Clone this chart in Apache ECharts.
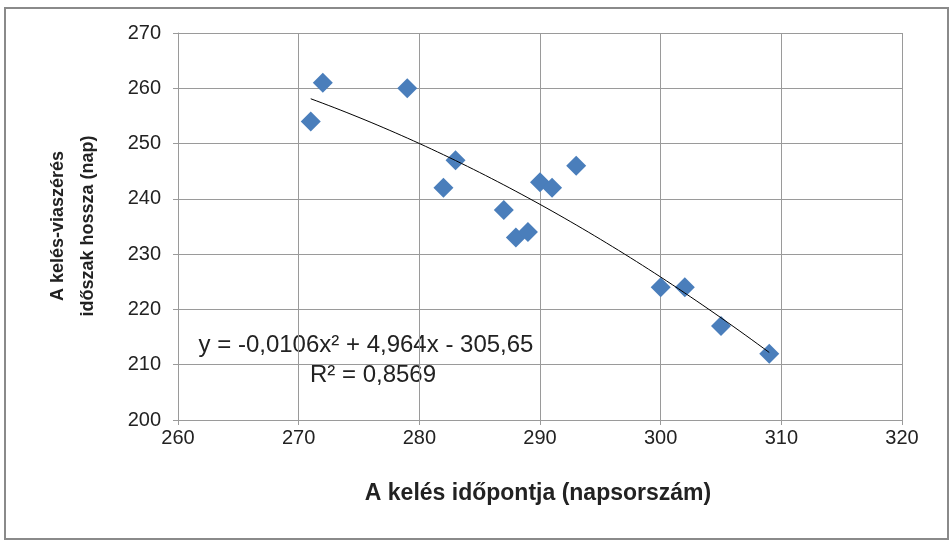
<!DOCTYPE html>
<html><head><meta charset="utf-8">
<script src="https://cdn.jsdelivr.net/npm/echarts@6/dist/echarts.min.js"></script>
<style>html,body{margin:0;padding:0;background:#fff}#c{width:952px;height:542px}</style>
</head><body><div id="c"></div>
<script>
// Data
var keles = [271, 272, 279, 282, 283, 287, 288, 289, 290, 291, 293, 300, 302, 305, 309];
var hossz = [254, 261, 260, 242, 247, 238, 233, 234, 243, 242, 246, 224, 224, 217, 212];
var equationText = 'y = -0,0106x² + 4,964x - 305,65';
var r2Text = 'R² = 0,8569';
var xTitle = 'A kelés időpontja (napsorszám)';
var yTitle = 'A kelés-viaszérés\nidőszak hossza (nap)';

// Quadratic least-squares trendline computed from the points
function quadFit(xs, ys) {
  var n = xs.length, m = 0;
  xs.forEach(function (v) { m += v; }); m /= n;
  var S = [0,0,0,0,0], T = [0,0,0];
  for (var i = 0; i < n; i++) {
    var u = xs[i] - m, p = 1;
    for (var k = 0; k < 5; k++) { S[k] += p; p *= u; }
    T[0] += ys[i]; T[1] += ys[i] * u; T[2] += ys[i] * u * u;
  }
  var A = [[S[0],S[1],S[2],T[0]],[S[1],S[2],S[3],T[1]],[S[2],S[3],S[4],T[2]]];
  for (var c = 0; c < 3; c++) {
    for (var r = c + 1; r < 3; r++) {
      var f = A[r][c] / A[c][c];
      for (var k2 = c; k2 < 4; k2++) A[r][k2] -= f * A[c][k2];
    }
  }
  var b = [0,0,0];
  for (var r2 = 2; r2 >= 0; r2--) {
    var s = A[r2][3];
    for (var k3 = r2 + 1; k3 < 3; k3++) s -= A[r2][k3] * b[k3];
    b[r2] = s / A[r2][r2];
  }
  return function (x) { var u = x - m; return b[0] + b[1] * u + b[2] * u * u; };
}
var fit = quadFit(keles, hossz);
var xmin = Math.min.apply(null, keles), xmax = Math.max.apply(null, keles);
var trend = [];
for (var x = xmin; x <= xmax + 1e-9; x += 0.5) trend.push([x, fit(x)]);

var points = keles.map(function (v, i) { return [v, hossz[i]]; });
var gridColor = '#9a9a9a';
var font = 'Liberation Sans';

var chart = echarts.init(document.getElementById('c'));
chart.setOption({
  backgroundColor: '#fff',
  animation: false,
  grid: { left: 178, right: 50, top: 33, bottom: 122 },
  xAxis: {
    type: 'value', min: 260, max: 320, interval: 10,
    axisLine: { show: true, lineStyle: { color: gridColor } },
    axisTick: { show: true, length: 5, lineStyle: { color: gridColor } },
    splitLine: { show: true, lineStyle: { color: gridColor } },
    axisLabel: { color: '#222', fontSize: 20, fontFamily: font, margin: 8 }
  },
  yAxis: {
    type: 'value', min: 200, max: 270, interval: 10,
    axisLine: { show: true, lineStyle: { color: gridColor } },
    axisTick: { show: true, length: 5, lineStyle: { color: gridColor } },
    splitLine: { show: true, lineStyle: { color: gridColor } },
    axisLabel: { color: '#222', fontSize: 20, fontFamily: font, margin: 17 }
  },
  series: [
    {
      type: 'line', data: trend, showSymbol: false, symbol: 'none', smooth: false,
      lineStyle: { color: '#000', width: 1 }, z: 3
    },
    {
      type: 'scatter', data: points, symbol: 'diamond', symbolSize: [20, 20],
      itemStyle: { color: '#4a7ebb', opacity: 1 }, z: 2
    }
  ],
  graphic: [
    { type: 'rect', shape: { x: 5, y: 8, width: 943, height: 531 },
      style: { fill: 'none', stroke: '#8a8a8a', lineWidth: 2 }, z: -10 },
    { type: 'text', x: 538, y: 494, style: { text: xTitle, fontFamily: font, fontWeight: 'bold',
      fontSize: 23, fill: '#222', textAlign: 'center', textVerticalAlign: 'middle' } },
    { type: 'text', x: 73, y: 226, rotation: Math.PI / 2, style: { text: yTitle, fontFamily: font,
      fontWeight: 'bold', fontSize: 18, lineHeight: 30, fill: '#222', textAlign: 'center', textVerticalAlign: 'middle' } },
    { type: 'text', x: 366, y: 345, style: { text: equationText, fontFamily: font,
      fontSize: 24, fill: '#222', textAlign: 'center', textVerticalAlign: 'middle' } },
    { type: 'text', x: 373, y: 375, style: { text: r2Text, fontFamily: font,
      fontSize: 24, fill: '#222', textAlign: 'center', textVerticalAlign: 'middle' } }
  ]
});
</script></body></html>
